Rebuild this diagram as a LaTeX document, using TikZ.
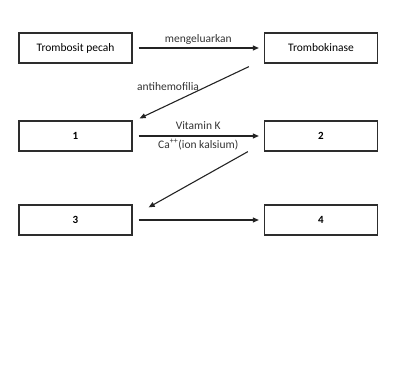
\documentclass[tikz,border=0pt]{standalone}
\usepackage{fontspec}
\setmainfont{Carlito}
\usetikzlibrary{arrows.meta,positioning,calc}
\definecolor{boxgray}{RGB}{45,45,45}
\definecolor{linegray}{RGB}{35,35,35}
\tikzset{
  stagebox/.style={rectangle, draw=boxgray, line width=1.3pt, fill=white,
    minimum width=113pt, minimum height=30pt, align=center, font=\fontsize{11.5}{13}\selectfont},
  numbox/.style={stagebox, font=\fontsize{11}{13}\selectfont\bfseries},
  flow/.style={-{Triangle[length=6pt,width=5pt]}, line width=1.1pt, draw=linegray,
    shorten <=6pt, shorten >=5pt},
  lbl/.style={font=\fontsize{11.5}{13}\selectfont, text=black!80, inner sep=1pt}
}
\begin{document}
\begin{tikzpicture}[x=1pt, y=-1pt]
  \useasboundingbox (0,0) rectangle (410,371);

  % --- row 1 ---
  \node[stagebox] (trombosit) at (75.5,48) {Trombosit pecah};
  \node[stagebox] (kinase) at (321,48) {Trombokinase};

  % --- row 2 ---
  \node[numbox] (satu) at (75.5,136) {1};
  \node[numbox] (dua) at (321,136) {2};

  % --- row 3 ---
  \node[numbox] (tiga) at (75.5,220) {3};
  \node[numbox] (empat) at (321,220) {4};

  % ---------------- edges ----------------
  \draw[flow] (trombosit) -- (kinase)
        node[midway, above=2pt, lbl]{mengeluarkan};

  \coordinate (kinaseout) at ($(kinase.south west)+(-15,3)$);
  \coordinate (satuin) at ($(satu.north east)+(7,-2)$);
  \draw[flow, shorten <=0pt, shorten >=0pt] (kinaseout) -- (satuin)
        node[pos=0.74, above=13pt, lbl]{antihemofilia};

  \draw[flow] (satu) -- (dua)
        node[midway, above=5pt, lbl]{Vitamin K}
        node[midway, below=2pt, lbl]{Ca\textsuperscript{++}(ion kalsium)};

  \coordinate (duaout) at ($(dua.south west)+(-16,0)$);
  \coordinate (tigain) at ($(tiga.north east)+(16,3)$);
  \draw[flow, shorten <=0pt, shorten >=0pt] (duaout) -- (tigain);

  \draw[flow] (tiga) -- (empat);

\end{tikzpicture}
\end{document}
